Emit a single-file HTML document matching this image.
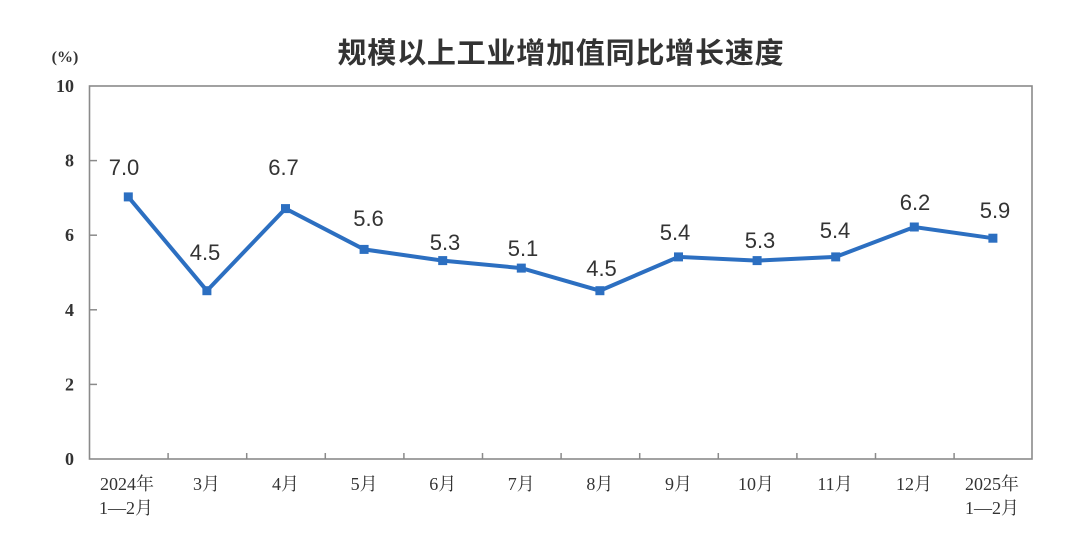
<!DOCTYPE html>
<html>
<head>
<meta charset="utf-8">
<style>
  html, body { margin:0; padding:0; background:#fff; }
  body { width:1080px; height:560px; overflow:hidden; }
  svg { display:block; }
  .title { font-family:"Liberation Sans","Noto Sans CJK SC",sans-serif; font-size:29px; font-weight:bold; fill:#333; letter-spacing:0.8px; }
  .ylab { font-family:"Liberation Serif","Noto Serif CJK SC",serif; font-size:18px; font-weight:bold; fill:#333; }
  .xlab { font-family:"Liberation Serif","Noto Serif CJK SC",serif; font-size:18px; fill:#333; }
  .dlab { font-family:"Liberation Sans",sans-serif; font-size:22px; fill:#333; }
</style>
</head>
<body>
<svg width="1080" height="560" viewBox="0 0 1080 560" xmlns="http://www.w3.org/2000/svg">
  <rect width="1080" height="560" fill="#fff"/>
  <text class="title" x="561" y="63" text-anchor="middle">规模以上工业增加值同比增长速度</text>

  <!-- unit -->
  <text class="ylab" x="65" y="62" text-anchor="middle" style="font-size:16px">(%)</text>

  <!-- frame -->
  <rect x="89.5" y="86" width="942.5" height="373" fill="none" stroke="#8a8a8a" stroke-width="1.6"/>

  <!-- y ticks -->
  <g stroke="#8a8a8a" stroke-width="1.5">
    <line x1="89.5" y1="160.6" x2="97" y2="160.6"/>
    <line x1="89.5" y1="235.2" x2="97" y2="235.2"/>
    <line x1="89.5" y1="309.8" x2="97" y2="309.8"/>
    <line x1="89.5" y1="384.4" x2="97" y2="384.4"/>
  </g>
  <!-- y labels -->
  <g class="ylab" text-anchor="end">
    <text x="74" y="92">10</text>
    <text x="74" y="166.6">8</text>
    <text x="74" y="241.2">6</text>
    <text x="74" y="315.8">4</text>
    <text x="74" y="390.4">2</text>
    <text x="74" y="465">0</text>
  </g>

  <!-- x ticks -->
  <g stroke="#8a8a8a" stroke-width="1.5">
    <line x1="168.1" y1="459" x2="168.1" y2="453"/>
    <line x1="246.7" y1="459" x2="246.7" y2="453"/>
    <line x1="325.3" y1="459" x2="325.3" y2="453"/>
    <line x1="403.9" y1="459" x2="403.9" y2="453"/>
    <line x1="482.5" y1="459" x2="482.5" y2="453"/>
    <line x1="561.1" y1="459" x2="561.1" y2="453"/>
    <line x1="639.7" y1="459" x2="639.7" y2="453"/>
    <line x1="718.3" y1="459" x2="718.3" y2="453"/>
    <line x1="796.9" y1="459" x2="796.9" y2="453"/>
    <line x1="875.5" y1="459" x2="875.5" y2="453"/>
    <line x1="954.1" y1="459" x2="954.1" y2="453"/>
  </g>

  <!-- x labels -->
  <g class="xlab" text-anchor="middle">
    <text x="127" y="490">2024年</text>
    <text x="126" y="514">1—2月</text>
    <text x="206.5" y="490">3月</text>
    <text x="285.5" y="490">4月</text>
    <text x="364.1" y="490">5月</text>
    <text x="442.7" y="490">6月</text>
    <text x="521.3" y="490">7月</text>
    <text x="599.9" y="490">8月</text>
    <text x="678.5" y="490">9月</text>
    <text x="756" y="490">10月</text>
    <text x="835" y="490">11月</text>
    <text x="914" y="490">12月</text>
    <text x="992" y="490">2025年</text>
    <text x="992" y="514">1—2月</text>
  </g>

  <!-- series -->
  <polyline fill="none" stroke="#2c6fc1" stroke-width="4" stroke-linejoin="miter"
    points="128.3,196.9 206.9,290.7 285.5,208.6 364.1,249.4 442.7,260.6 521.3,268.1 599.9,290.7 678.5,256.9 757.1,260.6 835.7,256.9 914.3,227 992.9,238.2"/>
  <g fill="#2c6fc1">
    <rect x="123.8" y="192.4" width="9" height="9"/>
    <rect x="202.4" y="286.2" width="9" height="9"/>
    <rect x="281" y="204.1" width="9" height="9"/>
    <rect x="359.6" y="244.9" width="9" height="9"/>
    <rect x="438.2" y="256.1" width="9" height="9"/>
    <rect x="516.8" y="263.6" width="9" height="9"/>
    <rect x="595.4" y="286.2" width="9" height="9"/>
    <rect x="674" y="252.4" width="9" height="9"/>
    <rect x="752.6" y="256.1" width="9" height="9"/>
    <rect x="831.2" y="252.4" width="9" height="9"/>
    <rect x="909.8" y="222.5" width="9" height="9"/>
    <rect x="988.4" y="233.7" width="9" height="9"/>
  </g>

  <!-- data labels -->
  <g class="dlab" text-anchor="middle">
    <text x="124" y="175">7.0</text>
    <text x="205" y="260">4.5</text>
    <text x="283.5" y="175">6.7</text>
    <text x="368.5" y="226">5.6</text>
    <text x="445" y="250">5.3</text>
    <text x="523" y="256">5.1</text>
    <text x="601.5" y="276">4.5</text>
    <text x="675" y="240">5.4</text>
    <text x="760" y="248">5.3</text>
    <text x="835" y="238">5.4</text>
    <text x="915" y="210">6.2</text>
    <text x="995" y="218">5.9</text>
  </g>
</svg>
</body>
</html>
